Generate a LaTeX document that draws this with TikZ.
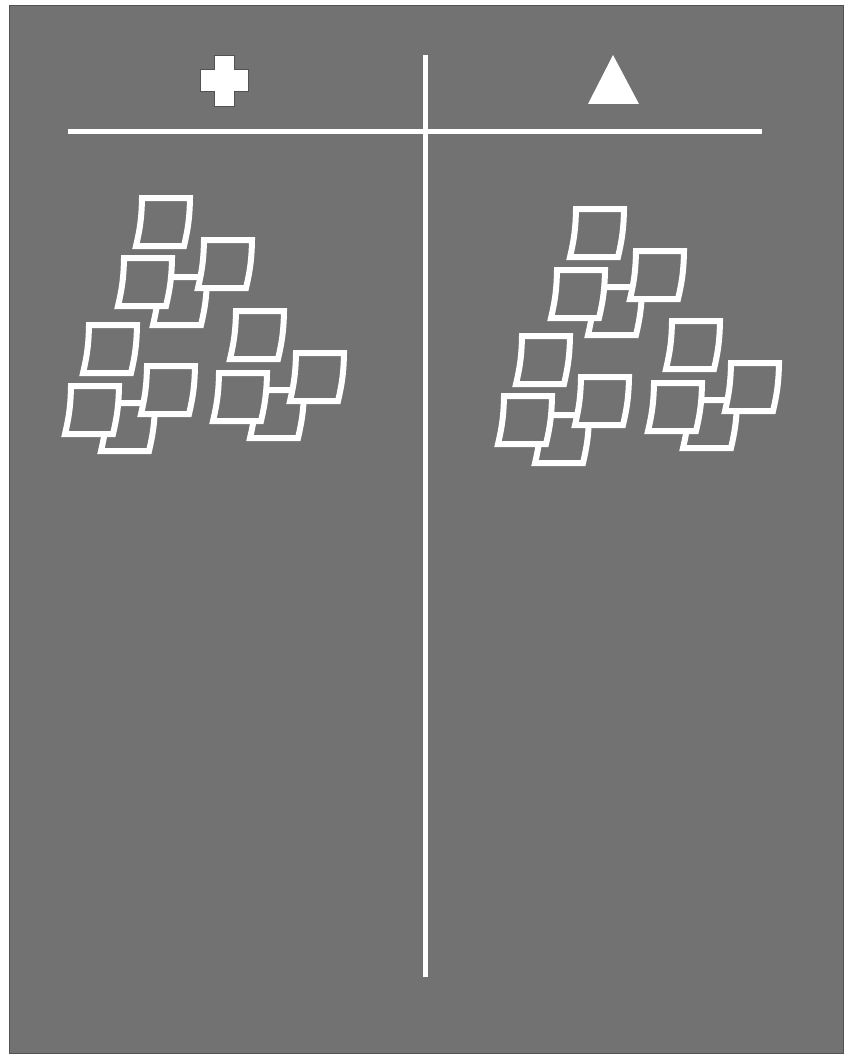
\documentclass[tikz,border=0pt]{standalone}
\usepackage{tikz}
\usetikzlibrary{positioning,calc}
\definecolor{BoardGray}{RGB}{114,114,114}
\definecolor{EdgeGray}{RGB}{82,82,82}
\tikzset{
  board/.style={fill=BoardGray,draw=EdgeGray,line width=1pt},
  chalkline/.style={draw=white,line width=5pt},
  notestroke/.style={fill=BoardGray,draw=white,line width=6pt,line join=miter},
  stickynote/.pic={
    \draw[notestroke] (9,3) -- (57,3) to[bend left=6] (51,51) -- (3,51) to[bend right=6] cycle;
  },
}
\tikzset{badge/.style={fill=white,draw=EdgeGray,line width=1pt}, peak/.style={fill=white}}

\begin{document}
\begin{tikzpicture}[x=1pt,y=-1pt]
\useasboundingbox (0,0) rectangle (844,1054);
\draw[board] (9.5,5.5) rectangle (843.5,1053.5);
\coordinate (hl) at (68,131.5);
\coordinate (hr) at (762,131.5);
\coordinate (vt) at (425,55);
\coordinate (vb) at (425,977);
\draw[chalkline] (hl)--(hr);
\draw[chalkline] (vt)--(vb);
% column headings
\draw[badge] (214,56) -- (234,56) -- (234,70) -- (248,70) -- (248,92) -- (234,92)
  -- (234,107) -- (214,107) -- (214,92) -- (200,92) -- (200,70) -- (214,70) -- cycle;
\fill[peak] (613,55) -- (639,104) -- (588,104) -- cycle;
% left column notes
\pic at (150,274) {stickynote};
\pic at (115,255) {stickynote};
\pic at (195,237) {stickynote};
\pic at (133,195) {stickynote};
\pic at (98,400) {stickynote};
\pic at (62,383) {stickynote};
\pic at (138,363) {stickynote};
\pic at (80,322) {stickynote};
\pic at (247,387) {stickynote};
\pic at (210,370) {stickynote};
\pic at (287,350) {stickynote};
\pic at (227,308) {stickynote};
% right column notes
\pic at (585,284) {stickynote};
\pic at (548,267) {stickynote};
\pic at (627,248) {stickynote};
\pic at (567,206) {stickynote};
\pic at (532,412) {stickynote};
\pic at (495,393) {stickynote};
\pic at (572,374) {stickynote};
\pic at (513,333) {stickynote};
\pic at (680,397) {stickynote};
\pic at (645,380) {stickynote};
\pic at (722,360) {stickynote};
\pic at (663,318) {stickynote};
\end{tikzpicture}
\end{document}
